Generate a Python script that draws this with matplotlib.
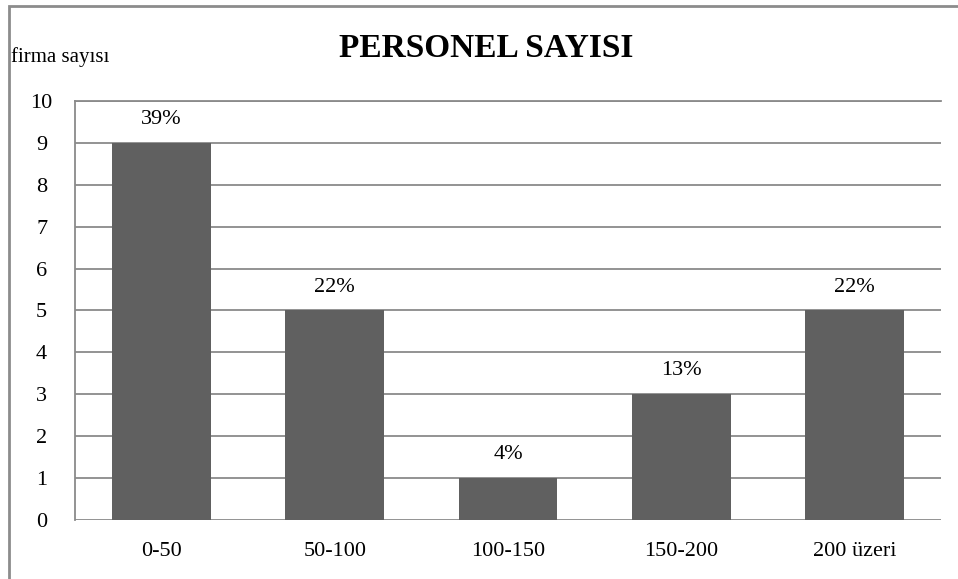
import matplotlib.pyplot as plt
from matplotlib.patches import Rectangle

categories = ["0-50", "50-100", "100-150", "150-200", "200 üzeri"]
counts = [9, 5, 1, 3, 5]
percent_labels = ["39%", "22%", "4%", "13%", "22%"]

BAR_COLOR = "#606060"
GRID_COLOR = "#8a8a8a"

plt.rcParams["font.family"] = ["Liberation Serif", "DejaVu Serif"]

fig = plt.figure(figsize=(9.58, 5.79), dpi=100)
ax = fig.add_axes([0.0783, 0.1019, 0.904, 0.7237])

x = list(range(len(categories)))
ax.bar(x, counts, width=0.57, color=BAR_COLOR, zorder=3)
for xi, val, lab in zip(x, counts, percent_labels):
    ax.annotate(lab, (xi, val), xytext=(0, 10), textcoords="offset points",
                ha="center", va="bottom", fontsize=16)

ax.set_xlim(-0.5, len(categories) - 0.5)
ax.set_ylim(0, 10)
ax.set_yticks(range(0, 11))
ax.set_xticks(x)
ax.set_xticklabels(categories, fontsize=16)
ax.tick_params(axis="y", length=0, pad=24, labelsize=16)
ax.tick_params(axis="x", length=0, pad=16)
for lbl in ax.get_yticklabels():
    lbl.set_horizontalalignment("center")

ax.grid(axis="y", color=GRID_COLOR, linewidth=1.3, zorder=0)
for side in ["right", "bottom"]:
    ax.spines[side].set_visible(False)
for side in ["left", "top"]:
    ax.spines[side].set_color(GRID_COLOR)
    ax.spines[side].set_linewidth(1.3)

fig.text(0.508, 0.917, "PERSONEL SAYISI", ha="center", va="center",
         fontsize=24, fontweight="bold")
fig.text(0.011, 0.901, "firma sayısı", ha="left", va="center", fontsize=15)

# outer chart frame (top and left edges visible in the original)
fig.patches.append(Rectangle((0.009, -0.05), 1.2, 1.039, transform=fig.transFigure,
                             fill=False, edgecolor="#8c8c8c", linewidth=2))

fig.savefig("out.png", dpi=100)
